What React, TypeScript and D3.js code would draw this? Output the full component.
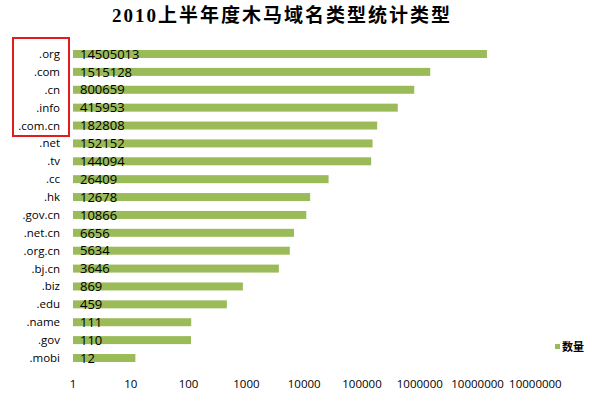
import * as d3 from 'd3'

const categories = ['.org', '.com', '.cn', '.info', '.com.cn', '.net', '.tv', '.cc', '.hk', '.gov.cn', '.net.cn', '.org.cn', '.bj.cn', '.biz', '.edu', '.name', '.gov', '.mobi']
const counts = [14505013, 1515128, 800659, 415953, 182808, 152152, 144094, 26409, 12678, 10866, 6656, 5634, 3646, 869, 459, 111, 110, 12]
const tickValues = [1, 10, 100, 1000, 10000, 100000, 1000000, 10000000, 100000000]
const tickLabels = ['1', '10', '100', '1000', '10000', '100000', '1000000', '10000000', '10000000']

const W = 601
const H = 394
const GREEN = '#9bbb59'
const FONT = '"Open Sans", "Noto Sans", sans-serif'

export default function App() {
  const x = d3.scaleLog().domain([1, 1e8]).range([73, 73 + 57.8 * 8])
  const y = d3.scalePoint<string>().domain(categories).range([54, 358])
  const barH = 8

  return (
    <svg width={W} height={H} style={{ position: 'absolute', left: 0, top: 0, background: '#fff' }}>
      <text x={282} y={22} textAnchor="middle" fontFamily='"Liberation Serif", "Noto Sans CJK SC", serif'
        fontWeight="bold" fontSize={19} letterSpacing={2} fill="#000">
        2010上半年度木马域名类型统计类型
      </text>

      {categories.map((c, i) => {
        const cy = y(c)!
        return (
          <g key={c}>
            <rect x={x(1)} y={cy - barH / 2} width={x(counts[i]) - x(1)} height={barH} fill={GREEN} />
            <text x={60} y={cy} dy="0.35em" textAnchor="end" fontFamily={FONT} fontSize={11.5} fill="#000">{c}</text>
            <text x={80} y={cy} dy="0.36em" fontFamily={FONT} fontSize={13} fill="#000">{counts[i]}</text>
          </g>
        )
      })}

      {tickValues.map((t, i) => (
        <text key={i} x={x(t)} y={388} textAnchor="middle" fontFamily={FONT} fontSize={11.5} fill="#000">{tickLabels[i]}</text>
      ))}

      <rect x={13} y={38} width={56} height={98} fill="none" stroke="#e31b1b" strokeWidth={2} />

      <rect x={555} y={344} width={5} height={5} fill={GREEN} />
      <text x={562} y={347} dy="0.35em" fontFamily='"Noto Sans CJK SC", sans-serif' fontWeight="bold" fontSize={11} fill="#000">数量</text>
    </svg>
  )
}
